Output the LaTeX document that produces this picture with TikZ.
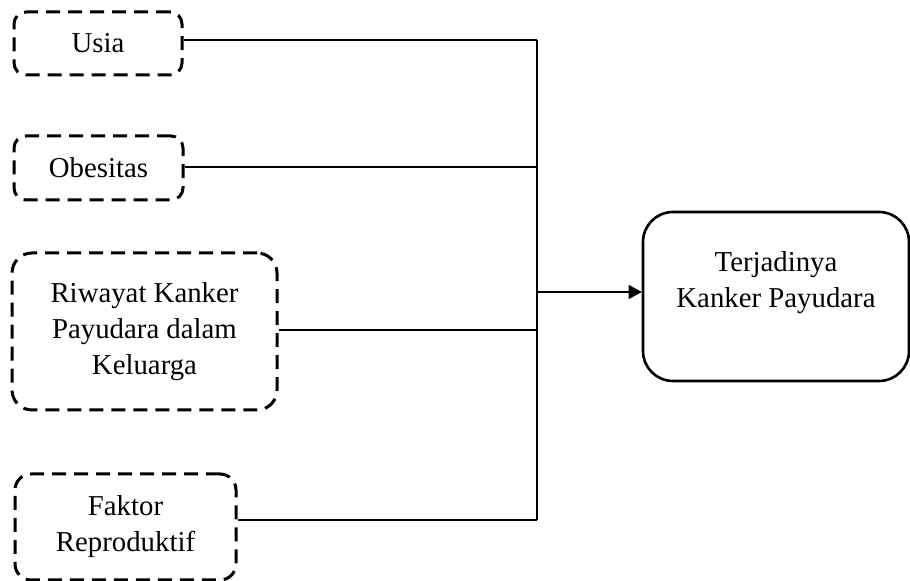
\documentclass[tikz,border=0pt]{standalone}
\usepackage{fontspec}
\setmainfont{Liberation Serif}
\usetikzlibrary{arrows.meta}
\begin{document}
\begin{tikzpicture}[x=0.5pt,y=-0.5pt,
  factor/.style={draw, line width=1.5pt, dash pattern=on 7pt off 4pt, align=center, inner sep=0pt},
  target/.style={draw, line width=1.3pt, rounded corners=15pt, minimum width=133pt, minimum height=84.5pt},
  link/.style={line width=0.7pt},
  txt/.style={font=\fontsize{14.4}{18}\selectfont}]
\useasboundingbox (0,0) rectangle (910,581);
\node[factor, txt, rounded corners=6pt, minimum width=84pt, minimum height=31.5pt] (u) at (98,43.5) {Usia};
\node[factor, txt, rounded corners=6pt, minimum width=84.5pt, minimum height=32pt] (o) at (98.5,168) {Obesitas};
\node[factor, txt, rounded corners=10pt, minimum width=132.5pt, minimum height=78.5pt] (r) at (144.5,331.5) {Riwayat Kanker\\Payudara dalam\\Keluarga};
\node[factor, txt, rounded corners=8pt, minimum width=110.5pt, minimum height=53pt] (f) at (125.5,527) {Faktor\\Reproduktif};
\node[target] (t) at (776,296.5) {};
\node[txt, align=center] (tt) at (776,283) {Terjadinya\\Kanker Payudara};
\coordinate (j1) at (537,40);
\coordinate (j2) at (537,167);
\coordinate (j3) at (537,330);
\coordinate (j4) at (537,520);
\coordinate (ja) at (537,292);
\draw[link] (u.east|-j1) -- (j1);
\draw[link] (o.east|-j2) -- (j2);
\draw[link] (r.east|-j3) -- (j3);
\draw[link] (f.east|-j4) -- (j4);
\draw[link] (j1) -- (j4);
\draw[link, -{Triangle[length=6.5pt,width=7pt]}] (ja) -- (t.west|-ja);
\end{tikzpicture}
\end{document}
